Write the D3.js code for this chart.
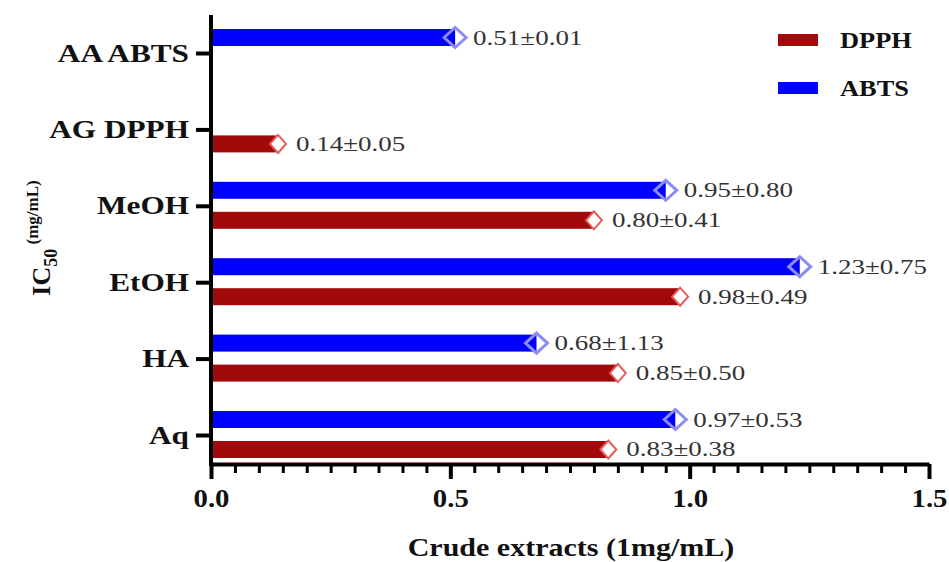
<!DOCTYPE html>
<html>
<head>
<meta charset="utf-8">
<script src="https://cdn.jsdelivr.net/npm/d3@7"></script>
<style>
  body { margin: 0; background: #fff; }
  svg { display: block; font-family: "Liberation Serif", "Times New Roman", serif; }
</style>
</head>
<body>
<script>
// Data
const categories = ['AA ABTS', 'AG DPPH', 'MeOH', 'EtOH', 'HA', 'Aq']
const abtsValues = [0.51, null, 0.95, 1.23, 0.68, 0.97]
const dpphValues = [null, 0.14, 0.80, 0.98, 0.85, 0.83]
const abtsLabels = ['0.51±0.01', null, '0.95±0.80', '1.23±0.75', '0.68±1.13', '0.97±0.53']
const dpphLabels = [null, '0.14±0.05', '0.80±0.41', '0.98±0.49', '0.85±0.50', '0.83±0.38']
const series = ['ABTS', 'DPPH']
const xTicks = [0, 0.5, 1.0, 1.5]
const xMinorTicks = d3.range(0, 1.5001, 0.05).filter(v => Math.abs(v * 2 - Math.round(v * 2)) > 1e-6)

const colors = { ABTS: '#0000ff', DPPH: '#a00a0a' }

// the source image is stretched sideways, so widen the glyphs a bit
function stretch (sel, k) {
  sel.each(function () {
    const w = this.getComputedTextLength()
    d3.select(this).attr('textLength', w * k).attr('lengthAdjust', 'spacingAndGlyphs')
  })
}

// Setup
const width = 949
const height = 562
const svg = d3.select('body').append('svg')
  .attr('width', width)
  .attr('height', height)

const axisY = 464
const x = d3.scaleLinear().domain([0, 1.5]).range([211, 929])
const y = d3.scalePoint().domain(categories).range([53, 435])
const sub = d3.scaleBand().domain(series).range([-24, 23]).paddingInner(0.433)

// Bars
function drawSeries (name, values, labels) {
  const rows = categories.map((c, i) => ({ cat: c, v: values[i], label: labels[i] })).filter(d => d.v != null)
  const g = svg.append('g').attr('class', name)
  const top = d => y(d.cat) + sub(name)
  const mid = d => top(d) + sub.bandwidth() / 2

  g.selectAll('rect').data(rows).enter().append('rect')
    .attr('x', x(0))
    .attr('y', top)
    .attr('width', d => x(d.v) - x(0))
    .attr('height', sub.bandwidth())
    .attr('fill', colors[name])

  const hw = name === 'ABTS' ? 11 : 8
  const hh = name === 'ABTS' ? 10 : 9
  g.selectAll('path').data(rows).enter().append('path')
    .attr('d', d => {
      const cx = x(d.v); const cy = mid(d)
      return `M${cx - hw},${cy}L${cx},${cy - hh}L${cx + hw},${cy}L${cx},${cy + hh}Z`
    })
    .attr('fill', name === 'ABTS' ? 'none' : '#fff')
    .attr('stroke', name === 'ABTS' ? '#8c8cf2' : '#e65a5a')
    .attr('stroke-width', name === 'ABTS' ? 3 : 2)

  g.selectAll('text').data(rows).enter().append('text')
    .attr('x', d => x(d.v) + 18)
    .attr('y', mid)
    .attr('dy', '0.35em')
    .style('font-size', '20px')
    .style('fill', '#333')
    .text(d => d.label)
    .call(stretch, 1.35)
}

drawSeries('ABTS', abtsValues, abtsLabels)
drawSeries('DPPH', dpphValues, dpphLabels)

// X axis
const xAxisMinor = svg.append('g')
  .attr('transform', `translate(0,${axisY})`)
  .call(d3.axisBottom(x).tickValues(xMinorTicks).tickSize(9).tickSizeOuter(0).tickFormat(''))
xAxisMinor.select('.domain').remove()
xAxisMinor.selectAll('line').attr('stroke', '#000').attr('stroke-width', 3)

const xAxis = svg.append('g')
  .attr('transform', `translate(0,${axisY})`)
  .call(d3.axisBottom(x).tickValues(xTicks).tickSize(15).tickSizeOuter(0).tickPadding(10).tickFormat(d3.format('.1f')))
xAxis.select('.domain').attr('stroke', '#000').attr('stroke-width', 4)
xAxis.selectAll('line').attr('stroke', '#000').attr('stroke-width', 4)
xAxis.selectAll('text')
  .style('font-family', '"Liberation Serif", serif')
  .style('font-size', '25px')
  .style('font-weight', 'bold')
  .attr('fill', '#111')
  .call(stretch, 1.15)

// Y axis
const yAxis = svg.append('g')
  .attr('transform', `translate(${x(0)},0)`)
  .call(d3.axisLeft(y).tickSize(15).tickSizeOuter(0).tickPadding(7))
yAxis.select('.domain').remove()
yAxis.selectAll('line').attr('stroke', '#000').attr('stroke-width', 4)
yAxis.selectAll('text')
  .style('font-family', '"Liberation Serif", serif')
  .style('font-size', '25px')
  .style('font-weight', 'bold')
  .attr('fill', '#111')
  .call(stretch, 1.25)
svg.append('line')
  .attr('x1', x(0)).attr('x2', x(0))
  .attr('y1', 15).attr('y2', axisY + 2)
  .attr('stroke', '#000')
  .attr('stroke-width', 4)

// Axis titles
svg.append('text')
  .attr('x', 571)
  .attr('y', 556)
  .attr('text-anchor', 'middle')
  .style('font-size', '25px')
  .style('font-weight', 'bold')
  .attr('fill', '#111')
  .text('Crude extracts (1mg/mL)')
  .call(stretch, 1.2)

const yTitle = svg.append('text')
  .attr('transform', 'translate(50,238) rotate(-90)')
  .attr('text-anchor', 'middle')
  .style('font-weight', 'bold')
  .attr('fill', '#111')
yTitle.append('tspan').style('font-size', '26px').text('IC')
yTitle.append('tspan').style('font-size', '18px').attr('dy', 7).text('50')
yTitle.append('tspan').style('font-size', '17px').attr('dy', -19).text(' (mg/mL)')

// Legend
const legend = svg.append('g').attr('transform', 'translate(778,30)')
const legendRows = ['DPPH', 'ABTS']
legendRows.forEach((name, i) => {
  const row = legend.append('g').attr('transform', `translate(0,${i * 48})`)
  row.append('rect')
    .attr('x', 0).attr('y', 4)
    .attr('width', 40).attr('height', 12)
    .attr('fill', colors[name])
  row.append('text')
    .attr('x', 62).attr('y', 10)
    .attr('dy', '0.35em')
    .style('font-size', '24px')
    .style('font-weight', 'bold')
    .attr('fill', '#111')
    .text(name)
    .call(stretch, 1.1)
})
</script>
</body>
</html>
